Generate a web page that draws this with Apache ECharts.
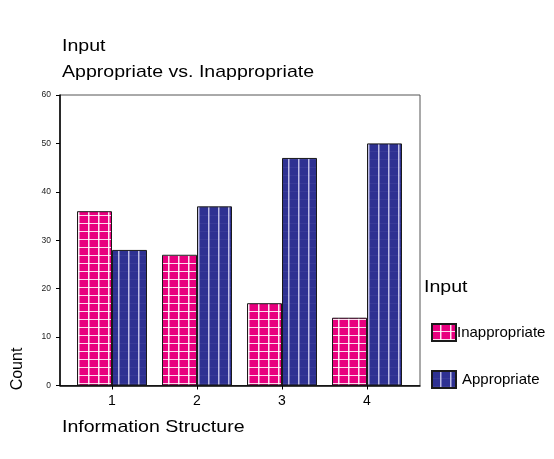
<!DOCTYPE html>
<html>
<head>
<meta charset="utf-8">
<script src="https://cdn.jsdelivr.net/npm/echarts@6/dist/echarts.min.js"></script>
<style>html,body{margin:0;padding:0;background:#fff}#c{width:554px;height:459px}</style>
</head>
<body>
<div id="c"></div>
<script>
var categories = ['1', '2', '3', '4'];
var inappropriate = [36, 27, 17, 14];
var appropriate = [28, 37, 47, 50];
var yTicks = [0, 10, 20, 30, 40, 50, 60];

function makePattern(bg, vCol, hCol, w, h) {
  var c = document.createElement('canvas');
  c.width = w; c.height = h;
  var g = c.getContext('2d');
  g.fillStyle = bg; g.fillRect(0, 0, w, h);
  if (hCol) { g.fillStyle = hCol; g.fillRect(0, h - 1, w, 1); }
  g.fillStyle = vCol; g.fillRect(w - 2, 0, 1.5, h);
  return c;
}
var pinkPat = { image: makePattern('#E8007F', 'rgba(255,255,255,0.9)', 'rgba(255,255,255,0.85)', 10, 8), repeat: 'repeat' };
var bluePat = { image: makePattern('#2E3192', 'rgba(205,205,238,0.9)', 'rgba(70,74,160,0.45)', 10, 8), repeat: 'repeat' };

var chart = echarts.init(document.getElementById('c'), null, { renderer: 'canvas' });
var FONT = 'Liberation Sans, Arial, sans-serif';
function txt(x, y, s, size, sx, rot) {
  return { type: 'text', x: x, y: y, scaleX: sx || 1, rotation: rot || 0,
    style: { text: s, fontSize: size, fontFamily: FONT, fill: '#000', textVerticalAlign: 'middle', textAlign: rot ? 'center' : 'left' } };
}
chart.setOption({
  animation: false,
  graphic: [
    txt(62, 46, 'Input', 17, 1.15),
    txt(62, 72, 'Appropriate vs. Inappropriate', 17, 1.15),
    txt(62, 427, 'Information Structure', 17, 1.15),
    txt(424, 287, 'Input', 17, 1.15),
    txt(18, 369, 'Count', 16, 1, Math.PI / 2)
  ],
  grid: [
    { left: 60, width: 360, top: 95, height: 290.5, show: true, borderColor: '#555', borderWidth: 1, backgroundColor: 'transparent' },
    { left: 69.5, width: 340, top: 95, height: 290.5 }
  ],
  xAxis: [
    { type: 'value', gridIndex: 0, min: 0, max: 1, axisLine: { show: true, onZero: false, lineStyle: { color: '#000', width: 1.5 } }, axisTick: { show: false }, axisLabel: { show: false }, splitLine: { show: false } },
    { type: 'category', gridIndex: 1, data: categories, axisLine: { show: false }, axisTick: { show: true, alignWithLabel: true, length: 4, lineStyle: { color: '#000' } },
      axisLabel: { fontSize: 14, fontFamily: FONT, color: '#000', margin: 9 } }
  ],
  yAxis: [
    { type: 'value', gridIndex: 0, min: 0, max: 60, interval: 10, axisLine: { show: true, lineStyle: { color: '#000', width: 1.5 } },
      axisTick: { show: true, length: 4, lineStyle: { color: '#000' } }, splitLine: { show: false },
      axisLabel: { fontSize: 8.5, fontFamily: FONT, color: '#222', margin: 9,
        formatter: function (v) { return yTicks.indexOf(v) >= 0 ? String(v) : ''; } } },
    { type: 'value', gridIndex: 1, min: 0, max: 60, show: false }
  ],
  legend: {
    orient: 'vertical', left: 431, top: 323, itemWidth: 24, itemHeight: 17, itemGap: 28, padding: 0,
    icon: 'rect',
    textStyle: { fontSize: 15, fontFamily: FONT, color: '#000' },
    data: [
      { name: 'Inappropriate', textStyle: { padding: [0, 0, 0, -4] } },
      { name: 'Appropriate', textStyle: { padding: [0, 0, 0, 1] } }
    ]
  },
  series: [
    { name: 'Inappropriate', type: 'bar', xAxisIndex: 1, yAxisIndex: 1, data: inappropriate, barWidth: 35, barGap: '0%',
      itemStyle: { color: pinkPat, borderColor: '#1a1a1a', borderWidth: 1 } },
    { name: 'Appropriate', type: 'bar', xAxisIndex: 1, yAxisIndex: 1, data: appropriate, barWidth: 35, barGap: '0%',
      itemStyle: { color: bluePat, borderColor: '#1a1a1a', borderWidth: 1 } }
  ]
});
</script>
</body>
</html>
